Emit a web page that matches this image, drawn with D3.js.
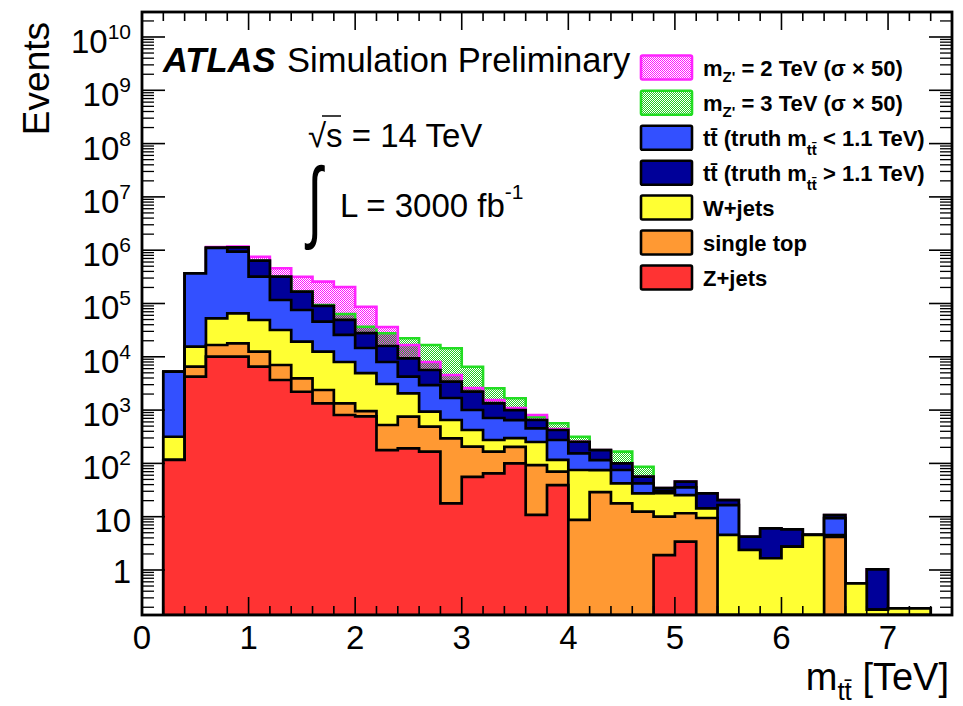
<!DOCTYPE html>
<html><head><meta charset="utf-8">
<script src="https://cdn.jsdelivr.net/npm/d3@7"></script>
<style>
body{margin:0;background:#fff}
svg text{font-family:"Liberation Sans",Arial,Helvetica,sans-serif;fill:#000}
</style>
</head><body>
<svg id="c" width="963" height="706"></svg>
<script>
// ---------------- data ----------------
const binLo = [0.2,0.4,0.6,0.8,1.0,1.2,1.4,1.6,1.8,2.0,2.2,2.4,2.6,2.8,3.0,3.2,3.4,3.6,3.8,4.0,4.2,4.4,4.6,4.8,5.0,5.2,5.4,5.6,5.8,6.0,6.2,6.4,6.6,6.8,7.0,7.2];
const binWidth = 0.2;
const zJets     = [116,4230,10040,10040,6520,3670,2210,1340,809,760,178,192,166,17.8,56,65,100,10.8,39,0,0,0,0,1.9,3.4,0,0,0,0,0,0,0,0,0,0,0];
const singleTop = [0,2290,6610,7880,5940,3350,1740,1040,532,200,347,560,322,278,150,101,105,82,31,8.7,29,17.8,12.4,8.1,8.2,9.45,0,0,0,0,0,4.2,0,0,0,0];
const wJets     = [200,8950,36100,47600,36600,24800,15250,10080,6650,4000,2560,1315,445,356,217,109,94,159,46,66.5,45.8,24.5,15.1,17.8,13.9,4.9,4.54,2.37,1.66,2.74,4.54,0.33,0.56,0.18,0.19,0.19];
const ttLow     = [4940,353000,1047000,872000,269000,84500,56300,33100,17700,9660,4900,2170,2020,1035,581,436,352,203,159,79.5,40.6,32.9,14.8,2.5,10.1,0,12.0,0,0,0,0,4.9,0,0,0,0];
const ttHigh    = [0,0,20000,196000,317000,202000,91000,44300,23400,13300,7950,5140,2700,1724,1210,630,352,197,148,100,62.5,25.2,14,4.2,9.8,13.1,4.0,1.84,4.40,3.06,0,1.3,0,0.85,0,0];
const zp2TeV    = [0,0,30000,40000,120000,139000,152000,167000,155000,59000,20300,7280,2335,1145,384,206,91,157,17,0,0,0,0,0,0,0,0,0,0,0,0,0,0,0,0,0];
const zp3TeV    = [0,0,0,0,0,0,0,4000,14500,8750,11660,12870,11000,11030,4308,1223,661,90,142,62,0,65.6,30.4,0,0,0,0,0,0,0,0,0,0,0,0,0];
const xTickLabels = ["0","1","2","3","4","5","6","7"];
const yTickExps = [0,1,2,3,4,5,6,7,8,9,10];

// ---------------- layout ----------------
const svg = d3.select("#c");
const M = {left:142, right:952, top:12, bottom:615};
const x = d3.scaleLinear().domain([0,7.6]).range([M.left,M.right]);
const y = d3.scaleLog().domain([0.1431, 2.944e10]).range([M.bottom,M.top]);
const yc = v => v>0 ? Math.max(M.top, Math.min(M.bottom, y(v))) : M.bottom;

// patterns
const defs = svg.append("defs");
const pPink = defs.append("pattern").attr("id","pinkDots").attr("width",2).attr("height",2).attr("patternUnits","userSpaceOnUse");
pPink.append("rect").attr("x",0).attr("y",0).attr("width",1).attr("height",1).attr("fill","#ff11ff");
pPink.append("rect").attr("x",1).attr("y",1).attr("width",1).attr("height",1).attr("fill","#ff11ff");
const pGreen = defs.append("pattern").attr("id","greenDots").attr("width",2).attr("height",2).attr("patternUnits","userSpaceOnUse");
pGreen.append("rect").attr("x",1).attr("y",0).attr("width",1).attr("height",1).attr("fill","#22cc22");
pGreen.append("rect").attr("x",0).attr("y",1).attr("width",1).attr("height",1).attr("fill","#22cc22");
defs.append("clipPath").attr("id","plotClip").append("rect")
  .attr("x",M.left).attr("y",M.top).attr("width",M.right-M.left).attr("height",M.bottom-M.top);

// cumulative stack
const cum = [];
let run = binLo.map(()=>0);
[zJets,singleTop,wJets,ttLow,ttHigh].forEach(s=>{ run = run.map((r,i)=>r+s[i]); cum.push(run.slice()); });
const total = cum[4];

const line = d3.line();
function stepPts(vals){
  const pts=[[x(binLo[0]), M.bottom]];
  vals.forEach((v,i)=>{ pts.push([x(binLo[i]), yc(v)]); pts.push([x(binLo[i]+binWidth), yc(v)]); });
  pts.push([x(binLo[binLo.length-1]+binWidth), M.bottom]);
  return pts;
}
function topPts(vals){
  const pts=[];
  vals.forEach((v,i)=>{ pts.push([x(binLo[i]), yc(v)]); pts.push([x(binLo[i]+binWidth), yc(v)]); });
  return pts;
}

const plot = svg.append("g").attr("clip-path","url(#plotClip)");

// signals (stacked on total background)
const signals = [
  {vals:zp3TeV, fill:"url(#greenDots)", stroke:"#22dd22"},
  {vals:zp2TeV, fill:"url(#pinkDots)", stroke:"#ff22ff"}
];
signals.forEach(s=>{
  const top = total.map((t,i)=>t+s.vals[i]);
  const poly = topPts(top).concat(topPts(total).reverse());
  plot.append("path").attr("d", line(poly)+"Z").attr("fill", s.fill).attr("stroke","none");
});
signals.forEach(s=>{
  const top = total.map((t,i)=>t+s.vals[i]);
  plot.append("path").attr("d", line(topPts(top))).attr("fill","none")
    .attr("stroke", s.stroke).attr("stroke-width",2.6);
});

// background stack (largest first)
const stackColors = ["#ff3333","#ff9933","#ffff33","#3350ff","#000099"];
for(let k=4;k>=0;k--){
  plot.append("path").attr("d", line(stepPts(cum[k]))+"Z")
    .attr("fill", stackColors[k]).attr("stroke","#000").attr("stroke-width",2.7)
    .attr("stroke-linejoin","miter");
}

// ---------------- axes / frame ----------------
const ax = svg.append("g").attr("stroke","#000");
const xMajor = d3.range(0,8);
const xMinor = d3.range(0,38).map(i=>i*0.2).filter(v=>Math.abs(v-Math.round(v))>1e-6);
xMajor.forEach(v=>{
  ax.append("line").attr("x1",x(v)).attr("x2",x(v)).attr("y1",M.bottom).attr("y2",M.bottom-18).attr("stroke-width",1.6);
  ax.append("line").attr("x1",x(v)).attr("x2",x(v)).attr("y1",M.top).attr("y2",M.top+18).attr("stroke-width",1.6);
});
xMinor.forEach(v=>{
  if(x(v)>=M.right-1) return;
  ax.append("line").attr("x1",x(v)).attr("x2",x(v)).attr("y1",M.bottom).attr("y2",M.bottom-9).attr("stroke-width",1.6);
  ax.append("line").attr("x1",x(v)).attr("x2",x(v)).attr("y1",M.top).attr("y2",M.top+9).attr("stroke-width",1.6);
});
yTickExps.forEach(k=>{
  const v = Math.pow(10,k);
  ax.append("line").attr("x1",M.left).attr("x2",M.left+23).attr("y1",y(v)).attr("y2",y(v)).attr("stroke-width",1.6);
  ax.append("line").attr("x1",M.right).attr("x2",M.right-23).attr("y1",y(v)).attr("y2",y(v)).attr("stroke-width",1.6);
});
for(let k=-1;k<=10;k++){
  for(let m=2;m<=9;m++){
    const v = m*Math.pow(10,k);
    const yy = y(v);
    if(yy<M.top+1 || yy>M.bottom-1) continue;
    ax.append("line").attr("x1",M.left).attr("x2",M.left+12).attr("y1",yy).attr("y2",yy).attr("stroke-width",1.3);
    ax.append("line").attr("x1",M.right).attr("x2",M.right-12).attr("y1",yy).attr("y2",yy).attr("stroke-width",1.3);
  }
}
svg.append("rect").attr("x",M.left).attr("y",M.top).attr("width",M.right-M.left).attr("height",M.bottom-M.top)
  .attr("fill","none").attr("stroke","#000").attr("stroke-width",2.8);

// tick labels
xTickLabels.forEach(t=>{
  svg.append("text").attr("x",x(+t)).attr("y",649).attr("text-anchor","middle").attr("font-size",33).text(t);
});
yTickExps.forEach(k=>{
  const yy = y(Math.pow(10,k));
  const t = svg.append("text").attr("x",131).attr("text-anchor","end").attr("font-size",33);
  if(k===0){ t.attr("y",yy+13).text("1"); }
  else if(k===1){ t.attr("y",yy+15).text("10"); }
  else {
    t.attr("y",yy+16);
    t.append("tspan").text("10");
    t.append("tspan").attr("font-size",21).attr("dy",-14).text(String(k));
  }
});

// axis titles
svg.append("text").attr("transform","translate(49,22) rotate(-90)").attr("text-anchor","end")
  .attr("font-size",37).text("Events");
const xt = svg.append("text").attr("x",949).attr("y",690).attr("text-anchor","end").attr("font-size",38);
xt.append("tspan").text("m");
xt.append("tspan").attr("font-size",26).attr("dy",10).text("tt\u0304");
xt.append("tspan").attr("dy",-10).text(" [TeV]");

// ATLAS label
svg.append("text").attr("x",163).attr("y",72).attr("font-size",34.5).attr("font-weight","bold").attr("font-style","italic").text("ATLAS");
svg.append("text").attr("x",287).attr("y",72).attr("font-size",34.5).text("Simulation Preliminary");
const rs = svg.append("text").attr("x",308).attr("y",147).attr("font-size",33);
rs.append("tspan").text("\u221As");
rs.append("tspan").text(" = 14 TeV");
svg.append("line").attr("x1",322).attr("x2",341).attr("y1",116).attr("y2",116).attr("stroke","#000").attr("stroke-width",1.5);
svg.append("text").attr("transform","translate(315,231) scale(0.6,1)").attr("text-anchor","middle")
  .attr("font-size",90).attr("font-family","Liberation Serif").text("\u222B");
const lt = svg.append("text").attr("x",340).attr("y",217).attr("font-size",33);
lt.append("tspan").text("L = 3000 fb");
lt.append("tspan").attr("font-size",21).attr("dy",-18).text("-1");

// ---------------- legend ----------------
const legendRows = [
  {fill:"url(#pinkDots)", stroke:"#ff22ff", label:"z2"},
  {fill:"url(#greenDots)", stroke:"#22dd22", label:"z3"},
  {fill:stackColors[3], stroke:"#000", label:"ttlow"},
  {fill:stackColors[4], stroke:"#000", label:"tthigh"},
  {fill:stackColors[2], stroke:"#000", label:"W+jets"},
  {fill:stackColors[1], stroke:"#000", label:"single top"},
  {fill:stackColors[0], stroke:"#000", label:"Z+jets"}
];
const legCy = [67.5,102.8,137.7,172.8,207.5,242.5,277.5];
const lg = svg.append("g");
legendRows.forEach((r,i)=>{
  const cy = legCy[i];
  lg.append("rect").attr("x",641).attr("y",cy-12).attr("width",51).attr("height",24)
    .attr("fill",r.fill).attr("stroke",r.stroke).attr("stroke-width",2.6).attr("rx",1.5);
  const t = lg.append("text").attr("x",703).attr("y",cy+8).attr("font-size",22).attr("font-weight","bold");
  if(r.label==="z2"||r.label==="z3"){
    t.append("tspan").text("m");
    t.append("tspan").attr("font-size",15).attr("dy",6).text("Z'");
    t.append("tspan").attr("dy",-6).text(r.label==="z2" ? " = 2 TeV (\u03C3 \u00D7 50)" : " = 3 TeV (\u03C3 \u00D7 50)");
  } else if(r.label==="ttlow"||r.label==="tthigh"){
    t.append("tspan").text("tt\u0304 (truth m");
    t.append("tspan").attr("font-size",15).attr("dy",9).text("tt\u0304");
    t.append("tspan").attr("dy",-9).text(r.label==="ttlow" ? " < 1.1 TeV)" : " > 1.1 TeV)");
  } else {
    t.text(r.label);
  }
});
</script>
</body></html>
